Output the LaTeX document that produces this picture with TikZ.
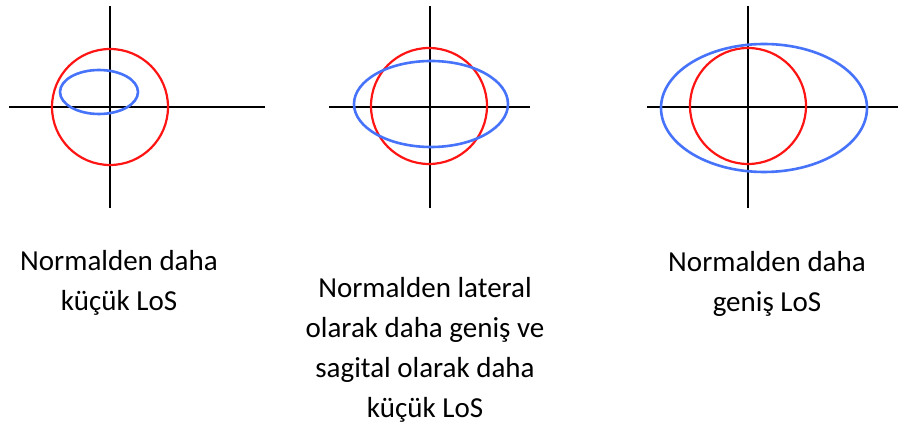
\documentclass[tikz,border=0pt]{standalone}
\usepackage{fontspec}
\setmainfont{Carlito}
\definecolor{losred}{RGB}{255,20,20}
\definecolor{losblue}{RGB}{70,115,250}
\begin{document}
\begin{tikzpicture}[x=1pt,y=-1pt,
  axis/.style={draw=black,line width=1.6pt},
  normcirc/.style={draw=losred,line width=2.2pt},
  loscurve/.style={draw=losblue,line width=2.6pt},
  caption/.style={align=center,inner sep=0pt,anchor=north,font=\fontsize{29}{40}\selectfont}]
\useasboundingbox (0,0) rectangle (899,430);
% diagram 1
\coordinate (o1) at (110,107);
\draw[axis] (9,107) -- (265,107);
\draw[axis] (110,6) -- (110,208);
\draw[normcirc] (o1) circle [radius=58];
\draw[loscurve] (99,92) ellipse [x radius=39, y radius=22];
% diagram 2
\coordinate (o2) at (430,107);
\draw[axis] (329,107) -- (530,107);
\draw[axis] (430,6) -- (430,208);
\draw[normcirc] (429,106) circle [radius=58];
\draw[loscurve] (431,104) ellipse [x radius=77, y radius=43];
% diagram 3
\coordinate (o3) at (748,107);
\draw[axis] (647,107) -- (898,107);
\draw[axis] (748,6) -- (748,208);
\draw[normcirc] (748,106) circle [radius=58];
\draw[loscurve] (764,108) ellipse [x radius=103, y radius=64];
% captions
\node[caption] (t1) at (119,250) {Normalden daha\\küçük LoS};
\node[caption] (t2) at (425,277) {Normalden lateral\\olarak daha geniş ve\\sagital olarak daha\\küçük LoS};
\node[caption] (t3) at (767,251) {Normalden daha\\geniş LoS};
\end{tikzpicture}
\end{document}
